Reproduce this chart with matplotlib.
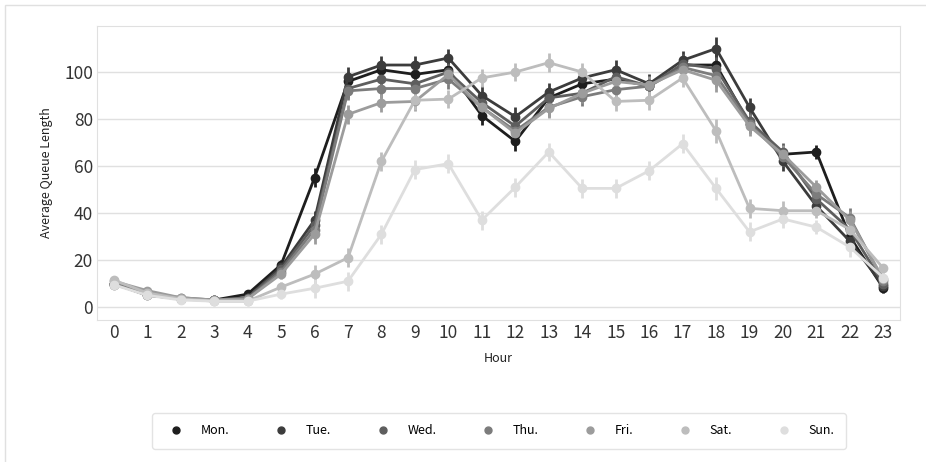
import matplotlib.pyplot as plt
from matplotlib.lines import Line2D
from matplotlib.patches import Rectangle

plt.rcParams['font.family'] = ['Noto Sans CJK KR', 'DejaVu Sans']

hours = list(range(24))
days = ['Mon.', 'Tue.', 'Wed.', 'Thu.', 'Fri.', 'Sat.', 'Sun.']
colors = ['#1e1e1e', '#3c3c3c', '#5e5e5e', '#7c7c7c', '#9c9c9c', '#bdbdbd', '#dedede']

mon = [10, 5, 3.5, 3, 5.5, 18, 55, 96, 101, 99, 101, 81.5, 70.5, 89, 95, 97, 94, 103, 103, 78, 65, 66, 30, 8]
tue = [10, 5.5, 3.5, 3, 4, 17, 37, 98, 103, 103, 106, 90, 81, 91.5, 97.5, 101, 95, 105, 110, 85, 62, 43, 28, 9]
wed = [9.5, 6, 3.5, 3, 4, 16, 35, 93, 97, 95, 100, 87, 77, 89, 91, 98, 94, 103.5, 101.5, 79, 66, 46, 33, 10]
thu = [10, 6, 4, 3, 3.5, 15, 33, 92, 93, 93, 97, 85, 75, 85, 89.5, 92.5, 94, 102, 98.5, 78, 64, 48, 38, 11]
fri = [11, 7, 4, 3, 3.5, 14, 31, 82, 87, 87.5, 99, 85, 74, 84.5, 91, 96, 94.5, 101, 96.5, 77, 65, 51, 37, 12]
sat = [11.5, 6, 3.5, 2.5, 2.5, 8.5, 14, 21, 62, 88, 88.5, 97.5, 100, 104, 100, 87.5, 88, 97.5, 75, 42, 41, 41, 33, 16.5]
sun = [9.5, 5, 3, 2.5, 2.5, 5.5, 8, 11, 31, 58.5, 61, 37, 51, 66, 50.5, 50.5, 58, 69.5, 50.5, 32, 37.5, 34, 25.5, 12.5]
series = [mon, tue, wed, thu, fri, sat, sun]

# rough CI half-widths per hour
err = [1.5, 1, 1, 0.8, 1, 2, 4, 4, 4, 4, 4, 4, 4, 4, 4, 4, 4, 4, 5, 4, 4, 3, 4, 2]

fig = plt.figure(figsize=(9.26, 4.62), dpi=100)
ax = fig.add_axes([0.1048, 0.3074, 0.8672, 0.6363])

for vals, c in zip(series, colors):
    ax.errorbar(hours, vals, yerr=err, fmt='-o', color=c, ecolor=c,
                markersize=6, linewidth=2, elinewidth=2, capsize=0)

ax.set_xlim(-0.5, 23.5)
ax.set_ylim(-5.5, 119.6)
ax.set_xticks(hours)
ax.set_xticklabels([str(h) for h in hours])
ax.set_yticks([0, 20, 40, 60, 80, 100])
ax.yaxis.grid(True, color='#e0e0e0', linewidth=1)
ax.xaxis.grid(False)
ax.set_axisbelow(True)
for s in ax.spines.values():
    s.set_color('#e0e0e0')
ax.tick_params(length=0, labelsize=12.5, colors='#333333', pad=3)
ax.set_xlabel('Hour', fontsize=9, color='#222222', labelpad=7)
ax.set_ylabel('Average Queue Length', fontsize=9, color='#222222', labelpad=8)

handles = [Line2D([], [], marker='o', linestyle='', color=c, markersize=5) for c in colors]
fig.legend(handles, days, loc='center', bbox_to_anchor=(0.539, 0.0675), ncol=7,
           fontsize=9, frameon=True, edgecolor='#dddddd', handletextpad=1.0,
           columnspacing=3.1, borderpad=0.9)

fig.patches.append(Rectangle((5 / 926, -0.02), 1.0, 1 - 5 / 462 + 0.02, transform=fig.transFigure,
                             fill=False, edgecolor='#e0e0e0', linewidth=1))

plt.savefig('out.png', dpi=100)
plt.close()
